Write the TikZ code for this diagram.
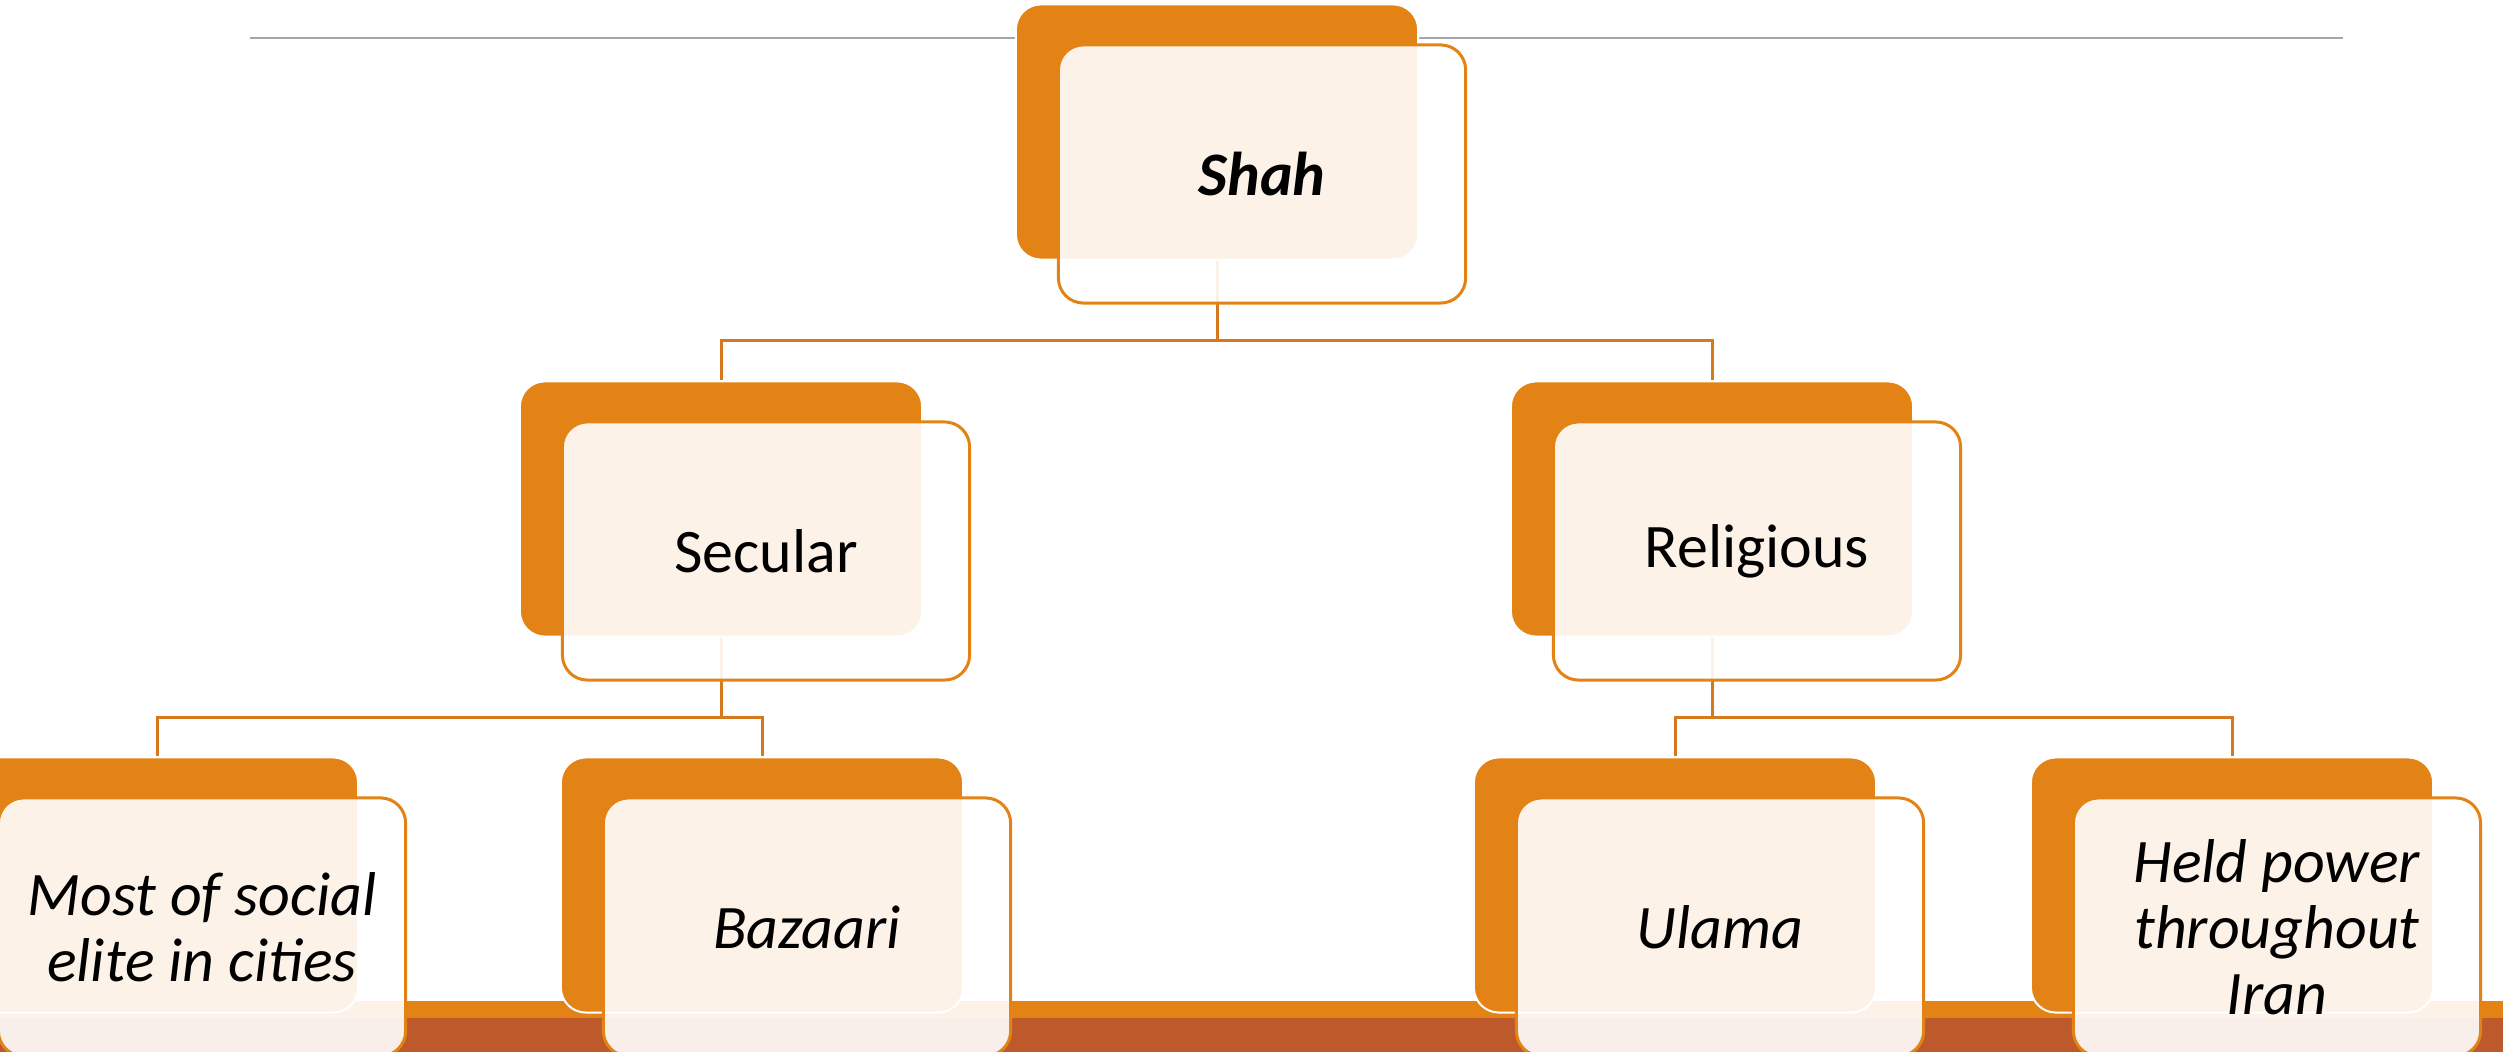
\documentclass[tikz,border=0pt]{standalone}
\usepackage{fontspec}
\setmainfont{Carlito}
\definecolor{boxorange}{RGB}{228,131,21}
\definecolor{linkorange}{RGB}{214,120,30}
\definecolor{bandbrown}{RGB}{190,89,44}
\definecolor{rulegray}{RGB}{166,166,166}

\tikzset{
  orangebox/.style={rectangle, rounded corners=0.25cm, fill=boxorange,
    draw=white, line width=0.02cm, minimum width=4.02cm, minimum height=2.55cm},
  creambox/.style={rectangle, rounded corners=0.25cm, fill=white,
    fill opacity=0.9, text opacity=1, draw=boxorange, line width=0.03cm,
    minimum width=4.07cm, minimum height=2.58cm, inner sep=0pt, align=center,
    font=\fontsize{17.6}{18.8}\selectfont},
  link/.style={draw=linkorange, line width=0.03cm},
}

\begin{document}
\begin{tikzpicture}[x=0.01cm, y=-0.01cm]
  \useasboundingbox (0,0) rectangle (2503,1052);

  % Rule and band
  \draw[rulegray, line width=0.02cm] (250,38) -- (2343,38);
  \fill[boxorange] (0,1001) rectangle (2503,1018);
  \fill[bandbrown] (0,1018) rectangle (2503,1052);

  % Back boxes
  \node[orangebox] (shahback) at (1217,132) {};
  \node[orangebox] (secback) at (721,509) {};
  \node[orangebox] (relback) at (1712,509) {};
  \node[orangebox] (mostback) at (157,885) {};
  \node[orangebox] (bazback) at (762,885) {};
  \node[orangebox] (ulaback) at (1675,885) {};
  \node[orangebox] (heldback) at (2232,885) {};

  % Links
  \draw[link] (shahback.south) -- ++(0,80) -| (secback.north);
  \draw[link] (shahback.south) -- ++(0,80) -| (relback.north);
  \draw[link] (secback.south) -- ++(0,80) -| (mostback.north);
  \draw[link] (secback.south) -- ++(0,80) -| (bazback.north);
  \draw[link] (relback.south) -- ++(0,80) -| (ulaback.north);
  \draw[link] (relback.south) -- ++(0,80) -| (heldback.north);

  % Front boxes
  \node[creambox] (shah) at ([shift={(45,42)}]shahback.center) {\textbf{\textit{Shah}}};
  \node[creambox] (secular) at ([shift={(45,42)}]secback.center) {Secular};
  \node[creambox] (religious) at ([shift={(45,42)}]relback.center) {Religious};
  \node[creambox] (most) at ([shift={(45,42)}]mostback.center) {\textit{Most of social}\\\textit{elite in cities}};
  \node[creambox] (bazaari) at ([shift={(45,42)}]bazback.center) {\textit{Bazaari}};
  \node[creambox] (ulama) at ([shift={(45,42)}]ulaback.center) {\textit{Ulama}};
  \node[creambox] (held) at ([shift={(45,42)}]heldback.center) {\textit{Held power}\\\textit{throughout}\\\textit{Iran}};

\end{tikzpicture}
\end{document}
